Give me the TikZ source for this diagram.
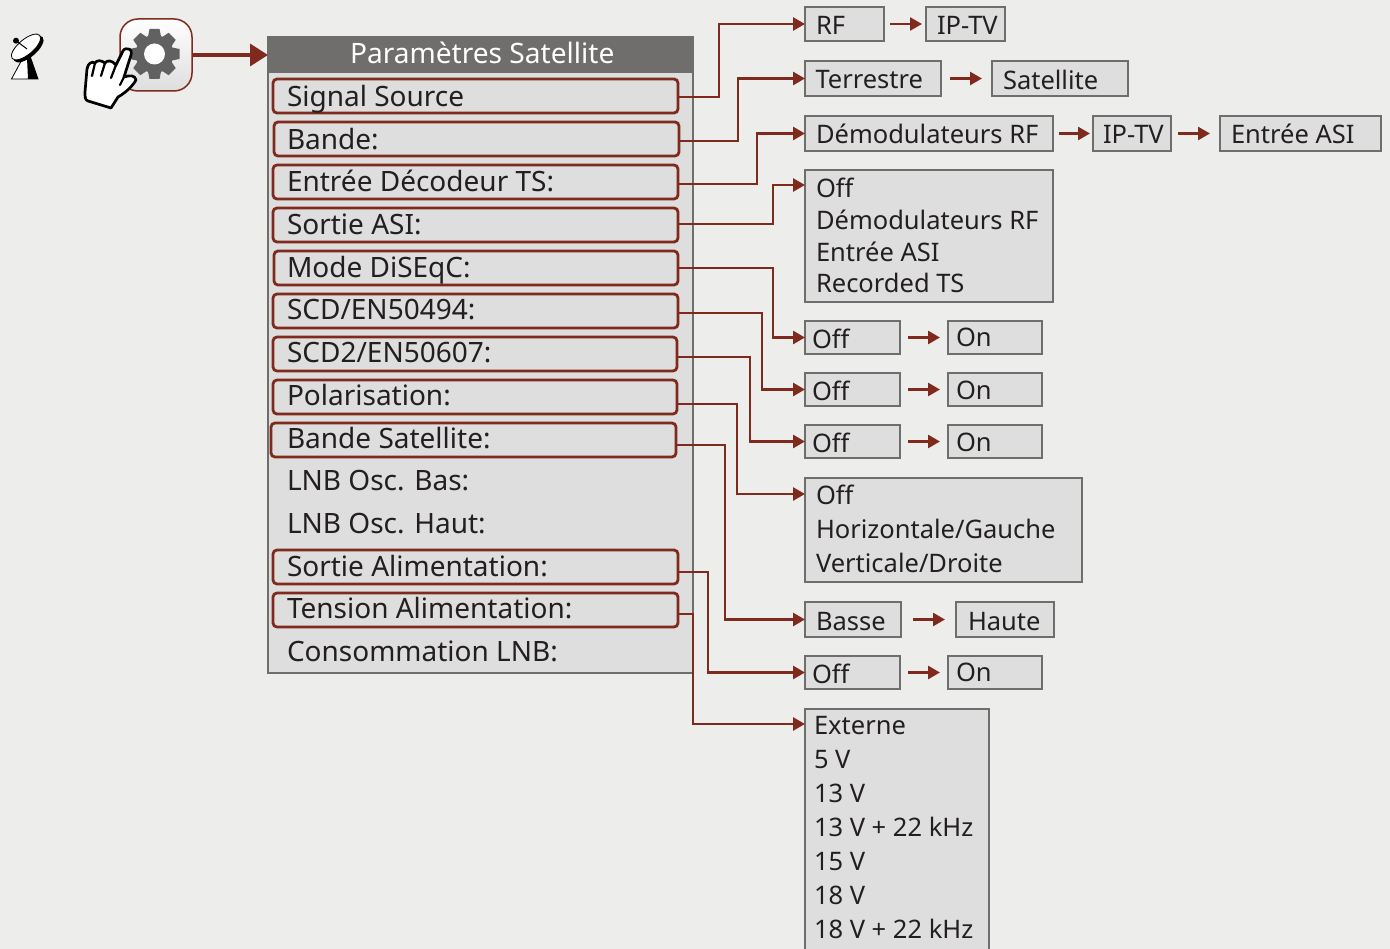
\documentclass[tikz,border=0pt]{standalone}
\usepackage{fontspec}
\setmainfont{Noto Sans}
\usetikzlibrary{arrows.meta,calc}
\definecolor{bgc}{HTML}{EDEDEC}
\definecolor{boxc}{HTML}{DEDEDE}
\definecolor{linec}{HTML}{6E6E6C}
\definecolor{redc}{HTML}{7F2A1D}
\definecolor{txtc}{HTML}{231F20}
\definecolor{hdrc}{HTML}{6F6E6C}
\tikzset{
 x=1pt,y=-1pt,
 every node/.style={inner sep=0pt,outer sep=0pt,text=txtc,font=\fontsize{28}{34}\selectfont},
 optbox/.style={draw=linec,fill=boxc,line width=1.7pt,font=\fontsize{25.5}{34}\selectfont},
 rowbox/.style={draw=redc,fill=boxc,line width=2.8pt,rounded corners=4pt},
 plainrow/.style={},
 conn/.style={draw=redc,line width=2.7pt,-{Triangle[length=12pt,width=13pt]}},
 gapconn/.style={draw=redc,line width=2.6pt,-{Triangle[length=12pt,width=13pt]}}
}
% style, name, x1, y1, x2, y2, text inset, baseline y, text
\newcommand{\bx}[9]{%
 \pgfmathsetlengthmacro{\bw}{#5-#3}%
 \pgfmathsetlengthmacro{\bh}{#8-#4}%
 \pgfmathsetlengthmacro{\bd}{#6-#8}%
 \pgfmathsetlengthmacro{\bi}{#7}%
 \node[#1,anchor=north west,text height=\bh,text depth=\bd] (#2) at (#3,#4) {\makebox[\bw][l]{\hspace*{\bi}#9}};}
\newcommand{\lines}[2]{\smash{\parbox[t]{300pt}{\baselineskip=#1pt\relax #2}}}
\begin{document}
\begin{tikzpicture}
\useasboundingbox (0,0) rectangle (1390,949);
\clip (0,0) rectangle (1390,949);
\fill[bgc] (0,0) rectangle (1390,949);
% panel
\node[optbox,anchor=north west,minimum width=425pt,minimum height=636pt] (panel) at (268,37) {};
\bx{fill=hdrc}{hdr}{268}{37}{693}{73}{82}{63.5}{\textcolor{white}{\fontsize{28.1}{34}\selectfont Paramètres Satellite}}
% rows
\bx{rowbox}{r1}{273}{79}{678}{113}{14}{106.5}{Signal Source}
\bx{rowbox}{r2}{274}{122}{679}{156}{13}{149.5}{Bande:}
\bx{rowbox}{r3}{273}{165}{678}{199}{14}{191.5}{Entrée Décodeur TS:}
\bx{rowbox}{r4}{273}{208}{678}{242}{14}{234.5}{Sortie ASI:}
\bx{rowbox}{r5}{274}{251}{678}{285}{13}{277.5}{Mode DiSEqC:}
\bx{rowbox}{r6}{273}{294}{678}{328}{14}{319.5}{SCD/EN50494:}
\bx{rowbox}{r7}{273}{337}{677}{371}{14}{362.5}{SCD2/EN50607:}
\bx{rowbox}{r8}{273}{380}{677}{414}{14}{405.5}{Polarisation:}
\bx{rowbox}{r9}{271}{423}{676}{457}{16}{448.5}{Bande Satellite:}
\bx{plainrow}{r10}{273}{465}{678}{499}{14}{490}{LNB Osc. Bas:}
\bx{plainrow}{r11}{273}{508}{678}{542}{14}{533}{LNB Osc. Haut:}
\bx{rowbox}{r12}{273}{550}{678}{584}{14}{576}{Sortie Alimentation:}
\bx{rowbox}{r13}{273}{593}{678}{627}{14}{618}{Tension Alimentation:}
\bx{plainrow}{r14}{273}{636}{678}{670}{14}{661}{Consommation LNB:}
% option boxes
\bx{optbox}{a1}{805}{7}{884}{41}{11}{34.5}{RF}
\bx{optbox}{a2}{926}{7}{1005}{41}{11}{34.5}{IP-TV}
\bx{optbox}{b1}{805}{61}{941}{96}{10.5}{89}{Terrestre}
\bx{optbox}{b2}{992}{61}{1128}{96}{11}{89.5}{Satellite}
\bx{optbox}{c1}{805}{116}{1053}{151}{11}{143.5}{Démodulateurs RF}
\bx{optbox}{c2}{1093}{116}{1171}{151}{10}{143.5}{IP-TV}
\bx{optbox}{c3}{1220}{116}{1381}{151}{11}{143.5}{Entrée ASI}
\bx{optbox}{d}{805}{170}{1053}{302}{11}{198}{\lines{31.6}{Off\\Démodulateurs RF\\Entrée ASI\\Recorded TS}}
\bx{optbox}{e1}{805}{321}{900}{354}{7}{348.5}{Off}
\bx{optbox}{e2}{948}{321}{1042}{354}{8}{346.5}{On}
\bx{optbox}{f1}{805}{373}{900}{406}{7}{400.5}{Off}
\bx{optbox}{f2}{948}{373}{1042}{406}{8}{399.5}{On}
\bx{optbox}{g1}{805}{425}{900}{458}{7}{452.5}{Off}
\bx{optbox}{g2}{948}{425}{1042}{458}{8}{451.5}{On}
\bx{optbox}{h}{805}{478}{1082}{582}{11}{504}{\lines{34}{Off\\Horizontale/Gauche\\Verticale/Droite}}
\bx{optbox}{i1}{805}{602}{901}{637}{11}{630}{Basse}
\bx{optbox}{i2}{956}{602}{1054}{637}{12}{630}{Haute}
\bx{optbox}{j1}{805}{656}{900}{689}{7}{683}{Off}
\bx{optbox}{j2}{948}{656}{1042}{689}{8}{681}{On}
\bx{optbox}{k}{805}{709}{989}{962}{9}{734.5}{\lines{34}{Externe\\5 V\\13 V\\13 V + 22 kHz\\15 V\\18 V\\18 V + 22 kHz}}
% connectors
\draw[conn] ([yshift=-1pt]r1.east) -- ([yshift=-1pt]r1.east -| 719,0) |- (a1.west);
\draw[conn] ([yshift=-2pt]r2.east) -- ([yshift=-2pt]r2.east -| 738,0) |- (b1.west);
\draw[conn] ([yshift=-2pt]r3.east) -- ([yshift=-2pt]r3.east -| 757,0) |- ([yshift=0pt]c1.west);
\draw[conn] ([yshift=1pt]r4.east) -- ([yshift=1pt]r4.east -| 773,0) |- ([yshift=51pt]d.west);
\draw[conn] (r5.east) -- (r5.east -| 773,0) |- (e1.west);
\draw[conn] ([yshift=-2pt]r6.east) -- ([yshift=-2pt]r6.east -| 762,0) |- (f1.west);
\draw[conn] ([yshift=-3pt]r7.east) -- ([yshift=-3pt]r7.east -| 750,0) |- (g1.west);
\draw[conn] ([yshift=-7pt]r8.east) -- ([yshift=-7pt]r8.east -| 737,0) |- ([yshift=36pt]h.west);
\draw[conn] ([yshift=-5pt]r9.east) -- ([yshift=-5pt]r9.east -| 725,0) |- (i1.west);
\draw[conn] ([yshift=-5pt]r12.east) -- ([yshift=-5pt]r12.east -| 708,0) |- (j1.west);
\draw[conn] ([yshift=-4pt]r13.east) -- ([yshift=-4pt]r13.east -| 693,0) |- ([yshift=111.5pt]k.west);
\draw[gapconn] ([xshift=6pt]a1.east) -- ([xshift=-4pt]a2.west);
\draw[gapconn] ([xshift=9pt]b1.east) -- ([xshift=-10pt]b2.west);
\draw[gapconn] ([xshift=6pt]c1.east) -- ([xshift=-3pt]c2.west);
\draw[gapconn] ([xshift=7pt]c2.east) -- ([xshift=-10pt]c3.west);
\draw[gapconn] ([xshift=8pt]e1.east) -- ([xshift=-8pt]e2.west);
\draw[gapconn] ([xshift=8pt]f1.east) -- ([xshift=-8pt]f2.west);
\draw[gapconn] ([xshift=8pt]g1.east) -- ([xshift=-8pt]g2.west);
\draw[gapconn] ([xshift=12pt]i1.east) -- ([xshift=-11pt]i2.west);
\draw[gapconn] ([xshift=8pt]j1.east) -- ([xshift=-8pt]j2.west);
% settings button
\node[draw=redc,line width=1.5pt,rounded corners=18pt,top color=white,bottom color=black!13,anchor=north west,minimum width=72pt,minimum height=72pt] (btn) at (120,19) {};
\draw[draw=redc,line width=3.5pt,-{Triangle[length=18pt,width=22pt]}] (btn.east) -- (hdr.west);
% gear
\begin{scope}[shift={(154.5,54)}]
\foreach \a in {0,45,...,315}
  \fill[black!62,rotate=\a] (-5,-25) -- (5,-25) -- (7,-15) -- (-7,-15) -- cycle;
\fill[black!62] (0,0) circle (19pt);
\fill[white] (0,0) circle (10.5pt);
\end{scope}
% hand
\draw[fill=white,draw=black,line width=2.7pt,line join=round] (128,49)
 .. controls (125,48) and (123,50) .. (122,53) -- (116,65)
 .. controls (112,60) and (107,60) .. (105,63)
 .. controls (101,60) and (97,60) .. (95,63)
 .. controls (92,61) and (88,63) .. (87,69)
 -- (85,92) .. controls (85,97) and (85,100) .. (88,101)
 -- (111,108) -- (118,97) .. controls (125,93) and (132,87) .. (136,80)
 .. controls (135,75) and (130,75) .. (124,77)
 -- (131,55) .. controls (132,52) and (131,49) .. (128,49) -- cycle;
\draw[black,line width=2.2pt,line cap=round] (105,63) -- (101,76) (95,63) -- (92,76) (116,65) -- (111,78) (124,77) -- (120,85);
% dish
\fill[white,draw=black,line width=.8pt] (11.5,79) -- (24,56) -- (30,56) -- (38,79) -- cycle;
\fill[black] (27,58) -- (30,56) -- (38,79) -- (28,79) -- cycle;
\fill[black,rotate around={-50:(28.5,49)}] (28.5,49) ellipse (8 and 18.5);
\draw[fill=white,draw=black,line width=.8pt,rotate around={-50:(26,47)}] (26,47) ellipse (7.5 and 18);
\draw[black,line width=1pt] (16,40.7) -- (27,49);
\fill[black] (16,40.7) circle (3pt);
\end{tikzpicture}
\end{document}
